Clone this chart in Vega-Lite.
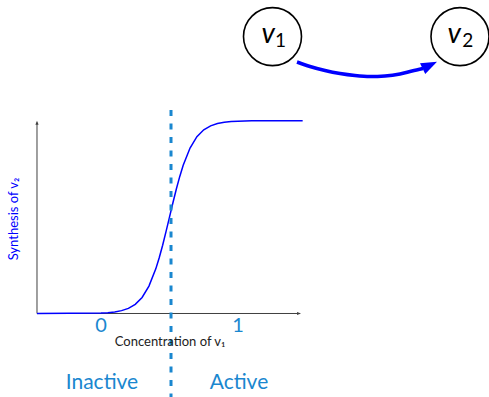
{
  "$schema": "https://vega.github.io/schema/vega-lite/v6.json",
  "width": 489,
  "height": 397,
  "autosize": "none",
  "padding": 0,
  "config": {"view": {"stroke": null}},
  "encoding": {
    "x": {"field": "x", "type": "quantitative", "scale": {"domain": [-0.7372, 2.8321], "nice": false, "zero": false}, "axis": null},
    "y": {"field": "y", "type": "quantitative", "scale": {"domain": [-0.4331, 1.626], "nice": false, "zero": false}, "axis": null}
  },
  "layer": [
    {
      "data": {"values": [
        {"seg": "y", "i": 0, "x": -0.4672, "y": 0},
        {"seg": "y", "i": 1, "x": -0.4672, "y": 0.99},
        {"seg": "x", "i": 0, "x": -0.4672, "y": 0},
        {"seg": "x", "i": 1, "x": 1.45, "y": 0}
      ]},
      "mark": {"type": "line", "color": "#404040", "strokeWidth": 1},
      "encoding": {"detail": {"field": "seg"}, "order": {"field": "i"}}
    },
    {
      "data": {"values": [{"x": -0.4672, "y": 1.0}]},
      "mark": {"type": "point", "shape": "M0,0L-2,-0.8L-2,0.8Z", "size": 16, "filled": true, "color": "#404040", "opacity": 1, "angle": 270}
    },
    {
      "data": {"values": [{"x": 1.4599, "y": 0}]},
      "mark": {"type": "point", "shape": "M0,0L-2,-0.8L-2,0.8Z", "size": 16, "filled": true, "color": "#404040", "opacity": 1, "angle": 0}
    },
    {
      "data": {"values": [
        {"x": -0.467, "y": 0.0}, {"x": 0.0, "y": 0.0025}, {"x": 0.05, "y": 0.0045},
        {"x": 0.1, "y": 0.0082}, {"x": 0.15, "y": 0.0148}, {"x": 0.2, "y": 0.0266},
        {"x": 0.25, "y": 0.0474}, {"x": 0.3, "y": 0.0832}, {"x": 0.35, "y": 0.142},
        {"x": 0.4, "y": 0.2315}, {"x": 0.425, "y": 0.289}, {"x": 0.45, "y": 0.354},
        {"x": 0.475, "y": 0.4256}, {"x": 0.5, "y": 0.5}, {"x": 0.525, "y": 0.5744},
        {"x": 0.55, "y": 0.646}, {"x": 0.575, "y": 0.711}, {"x": 0.6, "y": 0.7685},
        {"x": 0.65, "y": 0.858}, {"x": 0.7, "y": 0.9168}, {"x": 0.75, "y": 0.9526},
        {"x": 0.8, "y": 0.9734}, {"x": 0.85, "y": 0.9852}, {"x": 0.9, "y": 0.9918},
        {"x": 0.95, "y": 0.9955}, {"x": 1.0, "y": 0.9975}, {"x": 1.1, "y": 0.9993},
        {"x": 1.472, "y": 1.0}
      ]},
      "mark": {"type": "line", "color": "#0000ff", "strokeWidth": 1.5}
    },
    {
      "data": {"values": [
        {"i": 0, "x": 0.511, "y": 1.0555},
        {"i": 1, "x": 0.511, "y": -0.4331}
      ]},
      "mark": {"type": "line", "color": "#1a87cf", "strokeWidth": 3, "strokeDash": [6, 7.5]},
      "encoding": {"order": {"field": "i"}}
    },
    {
      "data": {"values": [
        {"x": 1.4307, "y": 1.3045}, {"x": 1.5255, "y": 1.2811}, {"x": 1.635, "y": 1.2604},
        {"x": 1.7445, "y": 1.2448}, {"x": 1.854, "y": 1.2344}, {"x": 1.9635, "y": 1.2293},
        {"x": 2.073, "y": 1.2319}, {"x": 2.1825, "y": 1.2422}, {"x": 2.27, "y": 1.2578},
        {"x": 2.3504, "y": 1.2708}
      ]},
      "mark": {"type": "line", "color": "#0000ff", "strokeWidth": 3.5, "interpolate": "monotone"}
    },
    {
      "data": {"values": [{"x": 2.4526, "y": 1.306}]},
      "mark": {"type": "point", "shape": "M0,0L-2,-0.75L-2,0.75Z", "size": 256, "filled": true, "color": "#0000ff", "opacity": 1, "angle": 334}
    },
    {
      "data": {"values": [{"x": 1.2518, "y": 1.4362}, {"x": 2.6204, "y": 1.4362}]},
      "mark": {"type": "point", "shape": "circle", "size": 3364, "filled": false, "color": "#000000", "strokeWidth": 1.6, "opacity": 1}
    },
    {
      "data": {"values": [{"x": 1.2212, "y": 1.4004, "t": "v"}, {"x": 2.578, "y": 1.4004, "t": "v"}]},
      "mark": {"type": "text", "font": "Lato", "fontStyle": "italic", "fontSize": 28, "baseline": "alphabetic", "align": "center", "color": "#000000"},
      "encoding": {"text": {"field": "t"}}
    },
    {
      "data": {"values": [{"x": 1.31, "y": 1.3838, "t": "1"}, {"x": 2.6765, "y": 1.3838, "t": "2"}]},
      "mark": {"type": "text", "font": "Lato", "fontSize": 19, "baseline": "alphabetic", "align": "center", "color": "#000000"},
      "encoding": {"text": {"field": "t"}}
    },
    {
      "data": {"values": [{"x": 0, "y": -0.096, "t": "0"}, {"x": 1, "y": -0.096, "t": "1"}]},
      "mark": {"type": "text", "font": "Lato", "fontSize": 20, "baseline": "alphabetic", "align": "center", "color": "#1a87cf"},
      "encoding": {"text": {"field": "t"}}
    },
    {
      "data": {"values": [{"x": 0.007, "y": -0.3932, "t": "Inactive"}, {"x": 1.007, "y": -0.3932, "t": "Active"}]},
      "mark": {"type": "text", "font": "Lato", "fontSize": 21, "baseline": "alphabetic", "align": "center", "color": "#1a87cf"},
      "encoding": {"text": {"field": "t"}}
    },
    {
      "data": {"values": [{"x": 0.504, "y": -0.1686, "t": "Concentration of v₁"}]},
      "mark": {"type": "text", "font": "Lato", "fontSize": 13, "baseline": "alphabetic", "align": "center", "color": "#222222"},
      "encoding": {"text": {"field": "t"}}
    },
    {
      "data": {"values": [{"x": -0.6314, "y": 0.4901, "t": "Synthesis of v₂"}]},
      "mark": {"type": "text", "font": "Lato", "fontSize": 13, "baseline": "middle", "align": "center", "angle": 270, "color": "#0000ff"},
      "encoding": {"text": {"field": "t"}}
    }
  ]
}
